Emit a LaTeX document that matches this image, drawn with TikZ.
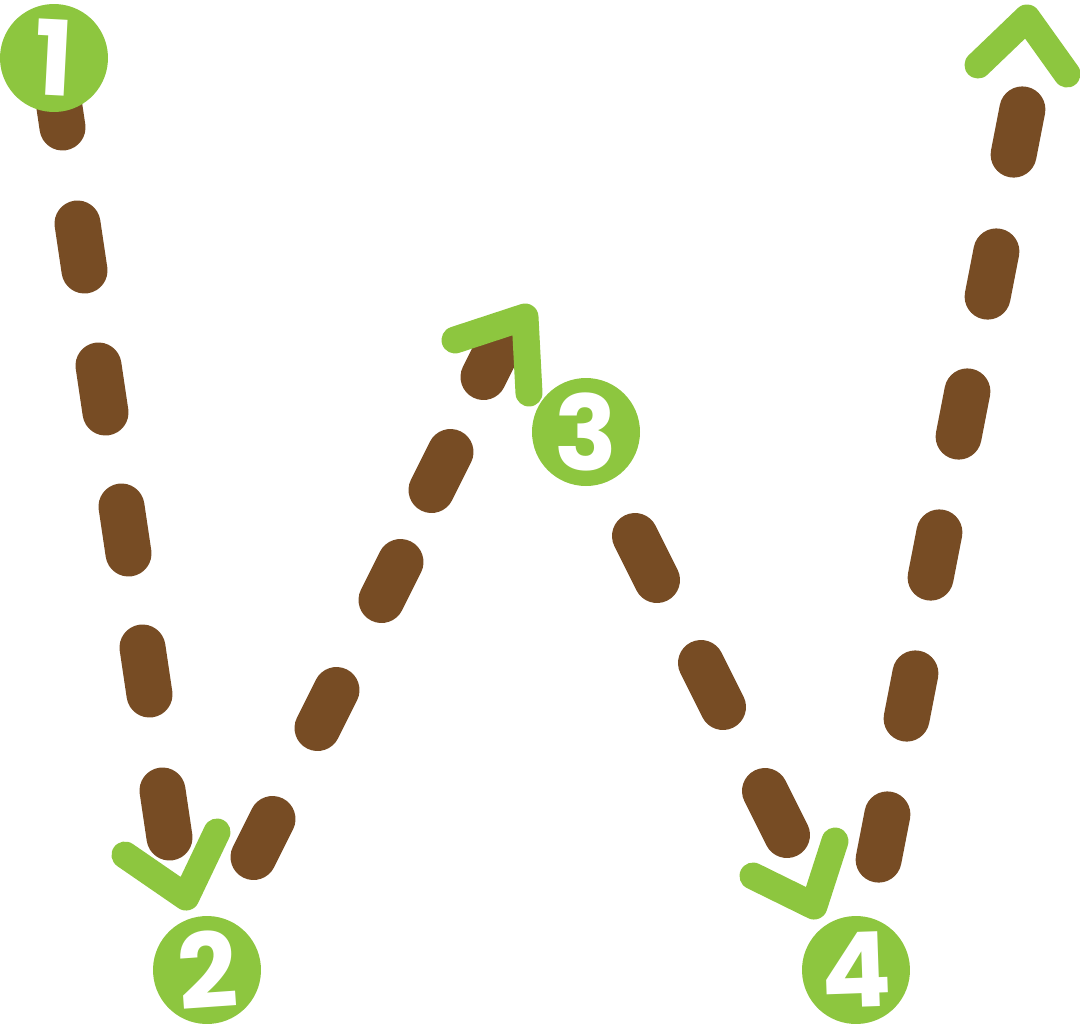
\documentclass[tikz,border=0pt]{standalone}
\usepackage{fontspec}
\newfontfamily\numfont{Poppins}
\definecolor{wbrown}{HTML}{774C24}
\definecolor{wgreen}{HTML}{8DC63F}
\tikzset{
  bdash/.style={draw=wbrown, line width=46pt, line cap=round},
  chev/.style={draw=wgreen, line width=27pt, line cap=round, line join=round},
  numdot/.style={circle, fill=wgreen, minimum size=108pt, inner sep=0pt, text=white,
    font=\numfont\bfseries\fontsize{104}{104}\selectfont},
}
\newcommand\bdsh[4]{\draw[bdash] ({#1-(#3)},{#2-(#4)}) -- ({#1+(#3)},{#2+(#4)});}
\begin{document}
\begin{tikzpicture}[x=1pt,y=-1pt]
\useasboundingbox (0,0) rectangle (1080,1034);
% stroke 1
\bdsh{59}{104}{3.5}{23.5}
\bdsh{81}{247}{3.5}{23.5}
\bdsh{102}{389}{3.5}{23.5}
\bdsh{125}{530}{3.5}{23.5}
\bdsh{146}{671}{3.5}{23.5}
\bdsh{166}{814}{3.5}{23.5}
% stroke 2
\bdsh{263}{838}{9.5}{-19}
\bdsh{327}{709}{9.5}{-19}
\bdsh{391}{581}{9.5}{-19}
\bdsh{441}{471}{9.5}{-19}
\bdsh{493}{358}{9.5}{-19}
% stroke 3
\bdsh{646}{558}{11}{22}
\bdsh{712}{685}{11}{22}
\bdsh{776}{813}{11}{22}
% stroke 4
\bdsh{883}{837}{4.4}{-22.6}
\bdsh{911}{696}{4.4}{-22.6}
\bdsh{935}{555}{4.4}{-22.6}
\bdsh{963}{414}{4.4}{-22.6}
\bdsh{992}{274}{4.4}{-22.6}
\bdsh{1018}{132}{4.4}{-22.6}
% chevrons
\coordinate (a1) at (125,855); \coordinate (v1) at (186,897); \coordinate (b1) at (217,832);
\coordinate (a2) at (455,340); \coordinate (v2) at (525,317); \coordinate (b2) at (529,393);
\coordinate (a3) at (753,876); \coordinate (v3) at (814,906); \coordinate (b3) at (835,841);
\coordinate (a4) at (978,65);  \coordinate (v4) at (1027,18); \coordinate (b4) at (1067,74);
\draw[chev] (a1) -- (v1) -- (b1);
\draw[chev] (a2) -- (v2) -- (b2);
\draw[chev] (a3) -- (v3) -- (b3);
\draw[chev] (a4) -- (v4) -- (b4);
% numbered dots
\node[numdot, rotate=-3] (c1) at (54,58) {1};
\node[numdot, rotate=4] (c2) at (207,970) {2};
\node[numdot] (c3) at (586,432) {3};
\node[numdot, rotate=2] (c4) at (856,970) {4};
\end{tikzpicture}
\end{document}
